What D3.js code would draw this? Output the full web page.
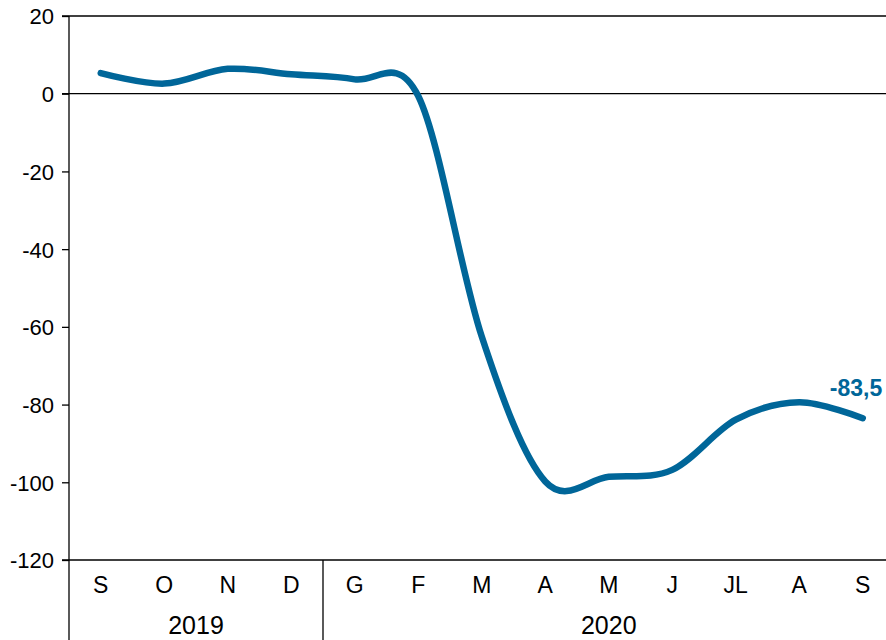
<!DOCTYPE html>
<html><head><meta charset="utf-8">
<script src="https://cdn.jsdelivr.net/npm/d3@7"></script>
<style>body{margin:0;background:#fff;} text{font-family:"Liberation Sans",Arial,sans-serif;}</style>
</head><body><svg id="c" width="886" height="640"></svg>
<script>
const months = ["S","O","N","D","G","F","M","A","M","J","JL","A","S"];
const years = ["2019","2020"];
const yearSpans = [4, 9];
const values = [5.3, 2.6, 6.4, 5.0, 3.7, -0.6, -62.5, -99.8, -98.6, -96.8, -83.9, -79.4, -83.5];
const yTicks = [20, 0, -20, -40, -60, -80, -100, -120];
const lastLabel = "-83,5";

const svg = d3.select("#c");
const mLeft = 69, mTop = 16, mBottom = 560;
const band = 63.5;
const x = d3.scaleBand().domain(d3.range(months.length)).range([mLeft, mLeft + band * months.length]).padding(0);
const y = d3.scaleLinear().domain([-120, 20]).range([mBottom, mTop]);
const color = "#006699";

[20, 0, -120].forEach(v => {
  svg.append("line").attr("x1", 62).attr("x2", 886).attr("y1", y(v)).attr("y2", y(v)).attr("stroke", "#000").attr("stroke-width", 1.3);
});

const yAxis = d3.axisLeft(y).tickValues(yTicks).tickSize(7).tickPadding(8).tickFormat(d => String(d));
const ga = svg.append("g").attr("transform", `translate(${mLeft},0)`).call(yAxis);
ga.select(".domain").remove();
ga.selectAll(".tick line").attr("stroke", "#000").attr("stroke-width", 1.3);
ga.selectAll(".tick text").attr("font-size", 22).attr("fill", "#000").attr("dy", "0.36em").style("font-family", "Liberation Sans, Arial, sans-serif");
svg.append("line").attr("x1", mLeft).attr("x2", mLeft).attr("y1", mTop).attr("y2", 640).attr("stroke", "#000").attr("stroke-width", 1.3);

svg.selectAll("text.m").data(months).enter().append("text").attr("class", "m")
  .attr("x", (d, i) => x(i) + x.bandwidth() / 2).attr("y", 593)
  .attr("text-anchor", "middle").attr("font-size", 23).attr("fill", "#000").text(d => d);

let acc = 0;
years.forEach((yr, k) => {
  const x0 = x(acc), x1 = mLeft + band * (acc + yearSpans[k]);
  svg.append("text").attr("x", (x0 + x1) / 2).attr("y", 634)
    .attr("text-anchor", "middle").attr("font-size", 25).attr("fill", "#000").text(yr);
  acc += yearSpans[k];
  if (k < years.length - 1) {
    svg.append("line").attr("x1", x(acc)).attr("x2", x(acc)).attr("y1", mBottom).attr("y2", 640).attr("stroke", "#000").attr("stroke-width", 1.3);
  }
});

const line = d3.line().x((d, i) => x(i) + x.bandwidth() / 2).y(d => y(d)).curve(d3.curveCardinal.tension(0));
svg.append("path").datum(values).attr("d", line).attr("fill", "none").attr("stroke", color).attr("stroke-width", 6.5).attr("stroke-linecap", "round");

const li = values.length - 1;
svg.append("text").attr("x", x(li) + x.bandwidth() / 2 - 33).attr("y", y(values[li]) - 22)
  .attr("font-size", 23).attr("font-weight", "bold").attr("fill", color).text(lastLabel);
</script></body></html>
